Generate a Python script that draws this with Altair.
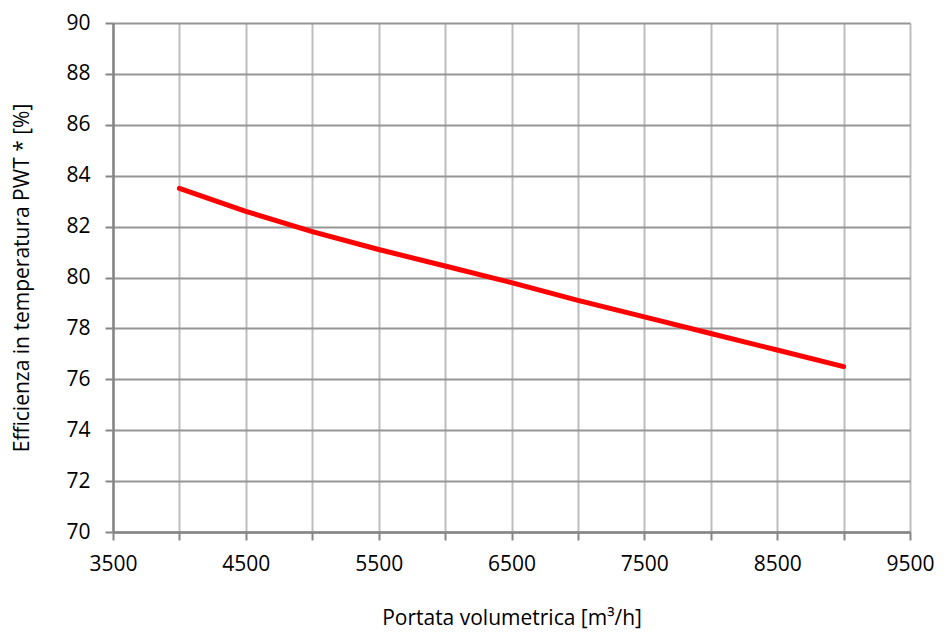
import altair as alt
import pandas as pd

portata = [4000, 4500, 5000, 5500, 6000, 6500, 7000, 7500, 8000, 8500, 9000]
efficienza = [83.5, 82.6, 81.8, 81.1, 80.45, 79.8, 79.1, 78.45, 77.8, 77.15, 76.5]

x_ticks = list(range(3500, 9501, 500))
y_ticks = list(range(70, 91, 2))

df = pd.DataFrame({"portata": portata, "eff": efficienza})

FONT = "Open Sans"

line = alt.Chart(df).mark_line(color="#ff0000", strokeWidth=5, strokeCap="round", strokeJoin="round").encode(
    x=alt.X("portata:Q",
            scale=alt.Scale(domain=[3500, 9500], nice=False, zero=False),
            axis=alt.Axis(values=x_ticks,
                          labelExpr="(datum.value - 3500) % 1000 == 0 ? format(datum.value, 'd') : ''",
                          title="Portata volumetrica [m³/h]",
                          titlePadding=33,
                          titleFontSize=21, titleFontWeight="normal", titleColor="#000000",
                          labelFontSize=21, labelColor="#000000", labelPadding=13,
                          tickSize=8, tickColor="#868686", tickWidth=2,
                          domainColor="#868686", domainWidth=2.5,
                          gridColor="#bdbdbd", gridWidth=2,
                          labelFlush=False)),
    y=alt.Y("eff:Q",
            scale=alt.Scale(domain=[70, 90], nice=False, zero=False),
            axis=alt.Axis(values=y_ticks,
                          title="Efficienza in temperatura PWT * [%]",
                          titlePadding=33,
                          titleFontSize=21, titleFontWeight="normal", titleColor="#000000",
                          labelFontSize=21, labelColor="#000000", labelPadding=15,
                          tickSize=8, tickColor="#868686", tickWidth=2,
                          domainColor="#868686", domainWidth=2.5,
                          gridColor="#969696", gridWidth=2,
                          labelFlush=False)),
)

chart = line.properties(
    width=797, height=509,
    autosize=alt.AutoSizeParams(type="none"),
    padding={"left": 105, "top": 15, "right": 26, "bottom": 97},
).configure_view(stroke=None).configure(font=FONT)

chart.save("out.html", embed_options={"renderer": "svg", "actions": False})
